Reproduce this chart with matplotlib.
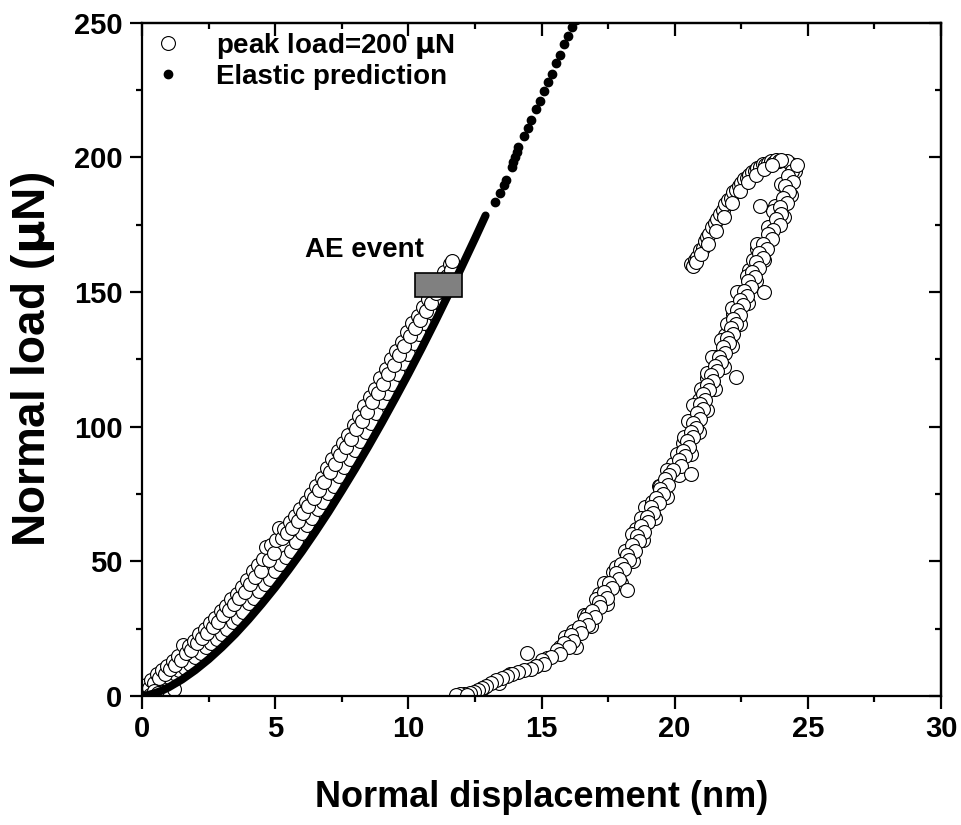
import numpy as np
import matplotlib
matplotlib.use("Agg")
import matplotlib.pyplot as plt
from matplotlib.ticker import MultipleLocator
from matplotlib.patches import Rectangle

plt.rcParams['font.family'] = ['Liberation Sans', 'DejaVu Sans']
plt.rcParams['font.weight'] = 'bold'

# measured load-displacement (open circles), loading branch up to AE event
load_x = [0.05, 0.15, 0.25, 0.35, 0.45, 0.55, 0.65, 0.75, 0.85, 0.95,
          1.05, 1.15, 1.25, 1.35, 1.45, 1.55, 1.65, 1.75, 1.85, 1.95,
          2.05, 2.15, 2.25, 2.35, 2.45, 2.55, 2.65, 2.75, 2.85, 2.95,
          3.05, 3.15, 3.25, 3.35, 3.45, 3.55, 3.65, 3.75, 3.85, 3.95,
          4.05, 4.15, 4.25, 4.35, 4.45, 4.55, 4.65, 4.75, 4.85, 4.95,
          5.05, 5.15, 5.25, 5.35, 5.45, 5.55, 5.65, 5.75, 5.85, 5.95,
          6.05, 6.15, 6.25, 6.35, 6.45, 6.55, 6.65, 6.75, 6.85, 6.95,
          7.05, 7.15, 7.25, 7.35, 7.45, 7.55, 7.65, 7.75, 7.85, 7.95,
          8.05, 8.15, 8.25, 8.35, 8.45, 8.55, 8.65, 8.75, 8.85, 8.95,
          9.05, 9.15, 9.25, 9.35, 9.45, 9.55, 9.65, 9.75, 9.85, 9.95,
          10.05, 10.15, 10.25, 10.35, 10.45, 10.55, 10.65, 10.75, 10.85, 10.95,
          11.05, 11.15, 11.25, 11.35, 11.45, 11.55, 11.6, 11.65,
          0.3, 0.45, 0.6, 0.9, 1.05, 1.2]
load_y = [1.5, 4, 3, 6, 5, 8, 6.5, 9.5, 8, 11,
          10, 13, 11.5, 15, 13.5, 19, 16, 18.5, 17, 20.5,
          19.5, 23, 21.5, 25, 23.5, 27, 25.5, 29, 27.5, 31.5,
          30, 33.5, 32, 36, 34, 38, 36.5, 40.5, 38.5, 43,
          41.5, 46.5, 44, 48.5, 46.5, 51, 55.5, 50.5, 56, 53,
          58, 62.5, 58.5, 62, 60.5, 64.5, 62.5, 67, 65, 69.5,
          68, 72, 70.5, 75, 73.5, 78, 76.5, 81, 79.5, 84.5,
          83, 88, 86, 91, 89.5, 94, 92.5, 97, 95.5, 100.5,
          99, 104, 102, 107.5, 105.5, 111, 109, 114, 112.5, 118,
          116, 121.5, 119.5, 125, 123, 128, 126.5, 131.5, 130, 135,
          133.5, 138.5, 136.5, 141, 139.5, 144.5, 143, 147.5, 146, 151,
          149.5, 154, 153, 157.5, 156, 160.5, 158, 161.5,
          0.5, 2, 1, 1.5, 1, 2.5]
# lower row of the loading branch, leaning on the elastic curve
load2_x = [0.6, 0.8, 1.0, 1.2, 1.4, 1.6, 1.8, 2.0, 2.2, 2.4,
           2.6, 2.8, 3.0, 3.2, 3.4, 3.6, 3.8, 4.0, 4.2, 4.4,
           4.6, 4.8, 5.0, 5.2, 5.4, 5.6, 5.8, 6.0, 6.2, 6.4,
           6.6, 6.8, 7.0, 7.2, 7.4, 7.6, 7.8, 8.0, 8.2, 8.4,
           8.6, 8.8, 9.0, 9.2, 9.4, 9.6, 9.8, 10.0, 10.2, 10.4,
           10.6, 10.8, 11.0, 11.2, 11.4]
load2_y = [5.5, 6.5, 7, 8.5, 9.5, 10.5, 12, 14.5, 16, 18,
           19.5, 21, 23, 25, 27.5, 29, 31, 34.5, 36.5, 39,
           41.5, 43.5, 46.5, 49, 51.5, 54, 57, 60.5, 63.5, 66,
           69.5, 72, 75.5, 78, 81.5, 85, 88, 91.5, 94.5, 98,
           101.5, 105, 109, 112.5, 116, 119.5, 123.5, 127, 131, 134.5,
           138.5, 142.5, 146.5, 150.5, 154.5]

# reloading branch after the AE event
reload_x = [20.6, 20.7, 20.75, 20.85, 20.95, 21.05, 21.15, 21.2, 21.3, 21.4,
            21.5, 21.6, 21.7, 21.8, 21.9, 22.0, 22.1, 22.2, 22.3, 22.4,
            22.5, 22.6, 22.7, 22.8, 22.9, 23.0, 23.1, 23.2, 23.3, 23.4,
            23.5, 23.6, 23.7, 23.8, 23.9, 24.0,
            20.8, 21.0, 21.25, 21.55, 21.85, 22.15, 22.45, 22.75, 23.05, 23.35, 23.65]
reload_y = [160.5, 159.5, 162, 163, 165.5, 166.5, 169, 170.5, 171.5, 174,
            175.5, 177, 179, 180.5, 182.5, 184, 185, 187, 188, 189.5,
            190.5, 192, 192.5, 193.5, 194.5, 195, 196, 196.5, 197.5, 197,
            198, 198.5, 198, 199, 198.5, 199,
            161, 164, 168, 172.5, 178, 183, 187.5, 191, 193.5, 195.5, 197]

# unloading branch
unload_x = [24.35, 24.2, 24.4, 24.25, 24.6, 24.45, 24.15, 24.3, 24.05, 24.2,
            23.95, 23.2, 24.0, 23.8, 23.95, 23.7, 23.5, 23.65, 23.3, 23.45,
            23.15, 23.3, 23.05, 23.15, 22.9, 23.0, 22.75, 22.85, 22.6, 23.35,
            22.7, 22.45, 22.55, 22.35, 22.45, 22.2, 22.3, 22.1, 22.2, 21.95,
            22.05, 21.8, 21.9, 21.65, 21.75, 21.5, 21.6, 22.3, 21.35, 21.45,
            21.2, 21.3, 21.05, 21.15, 20.95, 21.05, 20.85, 20.95, 20.7, 20.8,
            20.6, 20.7, 20.45, 20.55, 20.3, 20.4, 20.15, 20.25, 19.95, 20.6,
            19.8, 19.65, 19.75, 19.45, 19.55, 19.3, 19.4, 19.1, 19.2, 18.95,
            19.0, 18.75, 18.85, 18.6, 18.65, 18.4, 18.5, 18.2, 18.3, 18.0,
            18.1, 17.8, 17.9, 18.2, 17.55, 17.65, 17.35, 17.45, 17.15, 17.2,
            16.9, 17.0, 16.65, 16.75, 16.4, 16.5, 16.1, 16.2, 15.85, 16.05,
            15.6, 15.7, 15.35, 14.45, 15.0, 15.1, 14.8, 14.6, 14.35, 14.1,
            13.9, 13.7, 13.5, 13.3, 13.1, 12.9, 12.75, 12.6, 12.45, 12.3,
            12.1, 11.95, 11.8, 12.2]
unload_y = [197.5, 198.5, 195, 193, 197, 191, 189.5, 187, 185, 183,
            181.5, 182, 179, 177, 175, 173, 171.5, 169.5, 168, 166,
            164.5, 162.5, 161, 159, 157.5, 155.5, 154, 152, 150.5, 150,
            148.5, 147, 145, 143.5, 141.5, 140, 138, 136.5, 134.5, 133,
            131, 129.5, 127.5, 126, 124, 122.5, 120.5, 118.5, 119, 117,
            115.5, 113.5, 112, 110, 108.5, 106.5, 105, 103, 101.5, 99.5,
            98, 96, 94.5, 92.5, 91, 89, 87.5, 85.5, 84, 82.5,
            82, 80.5, 78.5, 77, 75, 73.5, 71.5, 70, 68, 66.5,
            64.5, 63, 61, 59.5, 57.5, 56, 54, 52.5, 50.5, 49,
            47, 45.5, 43.5, 39.5, 42, 40, 38.5, 36.5, 35, 33,
            31.5, 29.5, 28.5, 26.5, 25.5, 23.5, 22.5, 20.5, 19.5, 18,
            17, 15.5, 14.5, 15.8, 13.4, 12, 11, 10, 9.5, 9,
            8.2, 7.3, 6.5, 5.8, 4.8, 3.8, 3, 2.2, 1.5, 1,
            0.8, 0.6, 0.5, 0.5]
# second and third rows of the unloading branch (scatter)
unload2_x = [24.5, 24.0, 24.35, 23.75, 24.1, 23.55, 23.6, 23.1, 23.35, 22.8,
             23.05, 22.5, 22.75, 22.2, 22.45, 21.9, 22.15, 21.55, 21.85, 21.2,
             21.5, 20.9, 21.2, 20.6, 20.9, 20.3, 20.6, 19.95, 20.15, 19.4,
             19.7, 18.9, 19.25, 18.55, 18.8, 18.2, 18.45, 17.7, 18.0, 17.15,
             17.45, 16.6, 16.85, 15.9, 16.3, 15.2, 14.8, 13.8, 13.4, 12.8,
             12.5, 12.0,
             23.7, 23.5, 23.1, 22.95, 22.7, 22.35, 22.15, 21.95, 21.75, 21.4,
             21.2, 21.0, 20.7, 20.5, 20.35, 20.1, 19.7, 19.45, 19.15, 18.75,
             18.4, 18.15, 17.8, 17.35, 17.05, 16.7, 16.2, 15.7]
unload2_y = [195, 190, 186, 182, 178, 174, 170, 166, 162, 158,
             154, 150, 146, 142, 138, 134, 130, 126, 122, 118,
             114, 110, 106, 102, 98, 94, 90, 86, 82, 78,
             74, 70, 66, 62, 58, 54, 50, 46, 42, 38,
             34, 30, 26, 22, 18, 14, 11, 8, 5, 3,
             1, 0.5,
             180, 174, 168, 162, 156, 150, 144, 138, 132, 126,
             120, 114, 108, 102, 96, 90, 84, 78, 72, 66,
             60, 54, 48, 42, 36, 30, 24, 18]

# elastic (Hertzian) prediction, dense part
elastic_x = [0.0, 0.25, 0.5, 0.75, 1.0, 1.5, 2.0, 2.5, 3.0, 3.5,
             4.0, 4.5, 5.0, 5.5, 6.0, 6.5, 7.0, 7.5, 8.0, 8.5,
             9.0, 9.5, 10.0, 10.5, 11.0, 11.5, 12.0, 12.5, 12.9]
elastic_y = [0.0, 0.4, 1.1, 2.0, 3.2, 6.1, 9.6, 13.6, 18.1, 23.0,
             28.4, 34.2, 40.3, 46.8, 53.6, 60.8, 68.3, 76.2, 84.3, 92.7,
             101.4, 110.4, 119.6, 129.1, 138.9, 149.0, 159.3, 169.8, 178.4]
# elastic prediction, sparse dots above the dense part
elastic_dot_x = [13.26, 13.44, 13.59, 13.67, 13.88, 13.94, 14.01, 14.07, 14.13,
                 14.35, 14.5, 14.62, 14.8, 14.95, 15.1, 15.25, 15.4, 15.55,
                 15.7, 15.85, 16.0, 16.15, 16.3]
elastic_dot_y = [183.6, 186.7, 189.8, 191.6, 196.6, 198.4, 200.3, 202.1, 204.0,
                 208, 211, 214, 218, 221, 224.5, 228, 231, 235,
                 238, 242, 245, 248.5, 251]

fig = plt.figure(figsize=(9.62, 8.25), dpi=100)
ax = fig.add_axes([0.1476, 0.1564, 0.8306, 0.8161])

circ = dict(ls='none', marker='o', ms=10, mfc='white', mec='black', mew=0.8)
ax.plot(load2_x, load2_y, **circ)
ax.plot(load_x, load_y, label='peak load=200 $\\mathbf{\\mu}$N', **circ)
ax.plot(unload2_x, unload2_y, **circ)
ax.plot(unload_x, unload_y, **circ)
ax.plot(reload_x, reload_y, **circ)

ax.plot(elastic_x, elastic_y, '-', color='black', lw=5.8, solid_capstyle='round')
ax.plot(elastic_dot_x, elastic_dot_y, 'o', color='black', ms=6,
        label='Elastic prediction')

ax.add_patch(Rectangle((10.25, 148), 1.75, 9, facecolor='#808080',
                       edgecolor='black', lw=1.2, zorder=5))
ax.text(8.35, 165.5, 'AE event', fontsize=20, fontweight='bold',
        ha='center', va='center')

ax.set_xlim(0, 30)
ax.set_ylim(0, 250)
ax.xaxis.set_major_locator(MultipleLocator(5))
ax.xaxis.set_minor_locator(MultipleLocator(2.5))
ax.yaxis.set_major_locator(MultipleLocator(50))
ax.yaxis.set_minor_locator(MultipleLocator(25))

for s in ax.spines.values():
    s.set_linewidth(1.6)
ax.tick_params(which='major', direction='out', length=9, width=1.6,
               labelsize=21, pad=5)
ax.tick_params(which='minor', direction='out', length=4.5, width=1.6)
for lab in ax.get_xticklabels() + ax.get_yticklabels():
    lab.set_fontweight('bold')

# top / right ticks point inward
top = ax.secondary_xaxis('top')
top.xaxis.set_major_locator(MultipleLocator(5))
top.xaxis.set_minor_locator(MultipleLocator(2.5))
top.tick_params(which='major', direction='in', length=9, width=1.6, labeltop=False)
top.tick_params(which='minor', direction='in', length=4.5, width=1.6)
top.spines['top'].set_linewidth(1.6)
right = ax.secondary_yaxis('right')
right.yaxis.set_major_locator(MultipleLocator(50))
right.yaxis.set_minor_locator(MultipleLocator(25))
right.tick_params(which='major', direction='in', length=9, width=1.6, labelright=False)
right.tick_params(which='minor', direction='in', length=4.5, width=1.6)
right.spines['right'].set_linewidth(1.6)

ax.set_xlabel('Normal displacement (nm)', fontsize=26, fontweight='bold', labelpad=26)
ax.set_ylabel('Normal load ($\\mathbf{\\mu}$N)', fontsize=33, fontweight='bold', labelpad=12)

ax.legend(loc='upper left', bbox_to_anchor=(-0.025, 1.025), frameon=False,
          handletextpad=1.0, handlelength=1.5, labelspacing=0.12,
          prop={'weight': 'bold', 'size': 20})

fig.savefig('out.png', dpi=100)
